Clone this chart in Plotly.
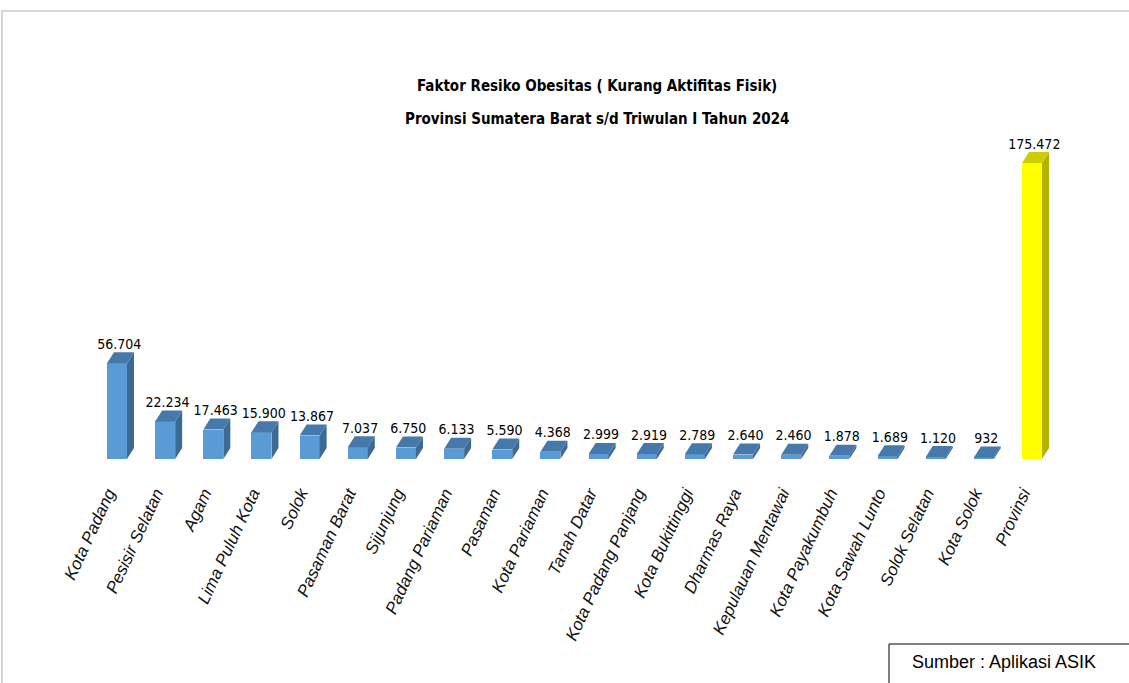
import plotly.graph_objects as go

categories = ["Kota Padang", "Pesisir Selatan", "Agam", "Lima Puluh Kota", "Solok",
              "Pasaman Barat", "Sijunjung", "Padang Pariaman", "Pasaman", "Kota Pariaman",
              "Tanah Datar", "Kota Padang Panjang", "Kota Bukittinggi", "Dharmas Raya",
              "Kepulauan Mentawai", "Kota Payakumbuh", "Kota Sawah Lunto", "Solok Selatan",
              "Kota Solok", "Provinsi"]
values = [56704, 22234, 17463, 15900, 13867, 7037, 6750, 6133, 5590, 4368,
          2999, 2919, 2789, 2640, 2460, 1878, 1689, 1120, 932, 175472]
title_lines = ["Faktor Resiko Obesitas ( Kurang Aktifitas Fisik)",
               "Provinsi Sumatera Barat s/d Triwulan I Tahun 2024"]
source_text = "Sumber : Aplikasi ASIK"

W, H = 1129, 683
base_px = 459
x0_px = 117.0
step_px = 48.16
top_px_target = 163
x_range = [-x0_px / step_px, (W - x0_px) / step_px]
y_dom0 = (H - base_px) / H
y_max = max(values) * base_px / (base_px - top_px_target)
ppu_y = base_px / y_max
dx_px, dy_px = 7.0, 11.0
dxu = dx_px / step_px
dyu = dy_px / ppu_y
bw = 20.0 / step_px

front_cols, top_cols, side_cols = [], [], []
for c in categories:
    if c == "Provinsi":
        front_cols.append("#FFFF00"); top_cols.append("#CDCD00"); side_cols.append("#B3B300")
    else:
        front_cols.append("#5B9BD5"); top_cols.append("#4678A9"); side_cols.append("#3C6A96")

xs = list(range(len(categories)))
fig = go.Figure()
fig.add_trace(go.Bar(x=xs, y=values, width=bw, marker=dict(color=front_cols, line=dict(width=0)),
                     hoverinfo="skip", showlegend=False))

for i, v in enumerate(values):
    l = i - bw / 2
    r = i + bw / 2
    fig.add_trace(go.Scatter(x=[r, r + dxu, r + dxu, r, r], y=[0, dyu, v + dyu, v, 0],
                             mode="lines", fill="toself", fillcolor=side_cols[i],
                             line=dict(width=0, color=side_cols[i]), hoverinfo="skip", showlegend=False))
    fig.add_trace(go.Scatter(x=[l, l + dxu, r + dxu, r, l], y=[v, v + dyu, v + dyu, v, v],
                             mode="lines", fill="toself", fillcolor=top_cols[i],
                             line=dict(width=0, color=top_cols[i]), hoverinfo="skip", showlegend=False))

labels = [f"{v:,}".replace(",", ".") for v in values]
fig.add_trace(go.Scatter(x=[i + dxu / 3 for i in xs], y=[v + dyu for v in values], mode="text",
                         text=labels, textposition="top center",
                         textfont=dict(family="DejaVu Sans Condensed, Arial Narrow", size=14, color="#000000"),
                         cliponaxis=False, hoverinfo="skip", showlegend=False))

fig.update_layout(
    width=W, height=H, margin=dict(l=0, r=0, t=0, b=0),
    paper_bgcolor="white", plot_bgcolor="white", bargap=0,
    xaxis=dict(range=x_range, domain=[0, 1], tickmode="array", tickvals=xs,
               ticktext=[f"<i>{c}</i>" for c in categories],
               tickangle=-65, showgrid=False, zeroline=False, showline=False, ticks="",
               ticklabelstandoff=20, ticklabelshift=-9,
               tickfont=dict(family="Liberation Sans, Arial", size=17, color="#111111"),
               automargin=False, fixedrange=True),
    yaxis=dict(range=[0, y_max], domain=[y_dom0, 1], showgrid=False, zeroline=False, showline=False,
               showticklabels=False, ticks="", automargin=False, fixedrange=True),
    showlegend=False,
)

title_font = dict(family="DejaVu Sans Condensed, Arial Narrow", size=15, color="#000000")
for t, ypx in zip(title_lines, [86, 119]):
    fig.add_annotation(xref="paper", yref="paper", x=597 / W, y=1 - ypx / H, text=f"<b>{t}</b>",
                       showarrow=False, xanchor="center", yanchor="middle", font=title_font)

fig.add_shape(type="rect", xref="paper", yref="paper", x0=2 / W, x1=1.05, y0=-0.05, y1=1 - 11 / H,
              line=dict(color="#D6D6D6", width=2), layer="below")
fig.add_shape(type="rect", xref="paper", yref="paper", x0=889 / W, x1=1.05, y0=-0.05, y1=1 - 644 / H,
              line=dict(color="#000000", width=1), fillcolor="white")
fig.add_annotation(xref="paper", yref="paper", x=910 / W, y=1 - 662 / H, text=source_text,
                   showarrow=False, xanchor="left", yanchor="middle",
                   font=dict(family="Liberation Sans, Arial", size=18, color="#000000"))

fig.write_html("out.html", config={"displayModeBar": False},
               post_script="document.body.style.margin='0';document.body.style.overflow='hidden';")
